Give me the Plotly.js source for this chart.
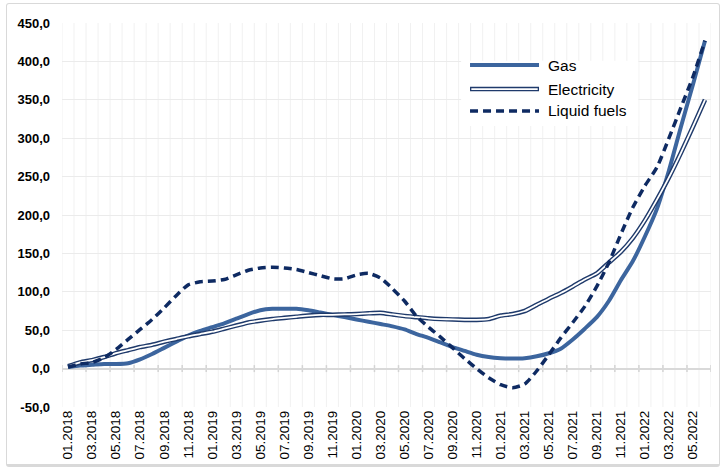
<!DOCTYPE html>
<html>
<head>
<meta charset="utf-8">
<script src="https://cdn.plot.ly/plotly-3.0.1.min.js"></script>
<style>
  html, body { margin: 0; padding: 0; background: #ffffff; }
  #wrap { position: relative; width: 721px; height: 468px; }
  #chart { position: absolute; left: 0; top: 0; width: 721px; height: 468px; }
  #frame { position: absolute; left: 6px; top: 3px; right: 1px; bottom: 1px;
           border: 1.5px solid #D9D9D9; border-bottom-width: 3px; border-radius: 3px;
           pointer-events: none; }
</style>
</head>
<body>
<div id="wrap"><div id="chart"></div><div id="frame"></div></div>
<script>
// Monthly categories, 01.2018 – 06.2022
const months = [
  "01.2018","02.2018","03.2018","04.2018","05.2018","06.2018","07.2018","08.2018","09.2018","10.2018","11.2018","12.2018",
  "01.2019","02.2019","03.2019","04.2019","05.2019","06.2019","07.2019","08.2019","09.2019","10.2019","11.2019","12.2019",
  "01.2020","02.2020","03.2020","04.2020","05.2020","06.2020","07.2020","08.2020","09.2020","10.2020","11.2020","12.2020",
  "01.2021","02.2021","03.2021","04.2021","05.2021","06.2021","07.2021","08.2021","09.2021","10.2021","11.2021","12.2021",
  "01.2022","02.2022","03.2022","04.2022","05.2022","06.2022"
];

// Labelled months on the category axis (every second month)
const xTickLabels = [
  "01.2018","03.2018","05.2018","07.2018","09.2018","11.2018",
  "01.2019","03.2019","05.2019","07.2019","09.2019","11.2019",
  "01.2020","03.2020","05.2020","07.2020","09.2020","11.2020",
  "01.2021","03.2021","05.2021","07.2021","09.2021","11.2021",
  "01.2022","03.2022","05.2022"
];

const yTickVals = [-50, 0, 50, 100, 150, 200, 250, 300, 350, 400, 450];
const yTickText = ["-50,0","0,0","50,0","100,0","150,0","200,0","250,0","300,0","350,0","400,0","450,0"];

// Series
const gas = [
  2, 4, 5, 6, 6, 7, 12, 19, 27, 35, 43, 49,
  54, 59, 65, 71, 76, 78, 78, 78, 76, 73, 70, 67,
  64, 61, 58, 55, 51, 45, 40, 34, 28, 23, 18, 15,
  13.5, 13, 13.5, 16, 20, 26, 38, 52, 67, 88, 115, 140,
  172, 208, 258, 315, 370, 427
];

const electricity = [
  3, 8, 11, 15, 20, 24, 28, 31, 35, 38.5, 42, 45,
  48, 52, 56, 60, 62.5, 64.5, 66, 67.5, 69, 70, 70, 70.5,
  71, 72, 72.5, 70.5, 68.5, 67, 65.5, 64.5, 64, 63.5, 63.5, 64.5,
  69, 71, 75, 83, 91, 98.5, 107, 116, 124, 138, 152, 170,
  193, 220, 249, 281, 315, 350
];

const liquidFuels = [
  2, 6, 8, 14, 25, 38, 51, 64, 79, 95, 109, 113,
  114, 116, 122, 128, 131, 132, 131, 129, 125, 121, 117, 117,
  122, 124, 118, 104, 88, 68, 54, 41, 27, 13, 0, -12,
  -21, -25, -20, -3, 18, 40, 60, 81, 107, 138, 175, 210,
  238, 262, 300, 340, 380, 427
];

const seriesNames = ["Gas", "Electricity", "Liquid fuels"];

const FONT = '"Liberation Sans", Arial, sans-serif';
const GAS_COLOR = '#3C659E';
const ELEC_COLOR = '#1F3A6B';
const LIQ_COLOR = '#0E2A62';
const LIQ_DASH = '8px,5px';
const SMOOTH = 0.6;

const traces = [
  { x: months, y: gas, type: 'scatter', mode: 'lines', name: seriesNames[0],
    line: { color: GAS_COLOR, width: 4, shape: 'spline', smoothing: SMOOTH },
    hoverinfo: 'skip', showlegend: false },
  // electricity: dark outline with a white core
  { x: months, y: electricity, type: 'scatter', mode: 'lines', name: seriesNames[1],
    line: { color: ELEC_COLOR, width: 4.6, shape: 'spline', smoothing: SMOOTH },
    hoverinfo: 'skip', showlegend: false },
  { x: months, y: electricity, type: 'scatter', mode: 'lines', name: seriesNames[1],
    line: { color: '#FFFFFF', width: 1.8, shape: 'spline', smoothing: SMOOTH },
    hoverinfo: 'skip', showlegend: false },
  { x: months, y: liquidFuels, type: 'scatter', mode: 'lines', name: seriesNames[2],
    line: { color: LIQ_COLOR, width: 3.5, dash: LIQ_DASH, shape: 'spline', smoothing: SMOOTH },
    hoverinfo: 'skip', showlegend: false }
];

const shapes = [];
// monthly vertical grid at category boundaries
for (let b = -0.5; b <= months.length - 0.5; b += 1) {
  shapes.push({ type: 'line', xref: 'x', yref: 'paper', x0: b, x1: b, y0: 0, y1: 1,
                line: { color: '#F1F1F1', width: 1 }, layer: 'below' });
}
// tick marks crossing the zero line, every second month
for (let b = -0.5; b <= months.length - 0.5; b += 2) {
  shapes.push({ type: 'line', xref: 'x', yref: 'y', ysizemode: 'pixel', yanchor: 0,
                x0: b, x1: b, y0: -3.5, y1: 3.5,
                line: { color: '#D4D4D4', width: 1.5 }, layer: 'below' });
}

// legend
const legX0 = 0.6287, legX1 = 0.735, legTextX = 0.7458;
const legY = [0.8906, 0.828, 0.771];
shapes.push({ type: 'rect', xref: 'paper', yref: 'paper', x0: 0.615, x1: 0.888, y0: 0.732, y1: 0.902,
              fillcolor: '#FFFFFF', line: { width: 0 }, layer: 'above' });
shapes.push({ type: 'line', xref: 'paper', yref: 'paper', x0: legX0, x1: legX1, y0: legY[0], y1: legY[0],
              line: { color: GAS_COLOR, width: 4 }, layer: 'above' });
shapes.push({ type: 'line', xref: 'paper', yref: 'paper', x0: legX0, x1: legX1, y0: legY[1], y1: legY[1],
              line: { color: ELEC_COLOR, width: 4.6 }, layer: 'above' });
shapes.push({ type: 'line', xref: 'paper', yref: 'paper', x0: legX0 + 0.002, x1: legX1 - 0.002, y0: legY[1], y1: legY[1],
              line: { color: '#FFFFFF', width: 1.8 }, layer: 'above' });
shapes.push({ type: 'line', xref: 'paper', yref: 'paper', x0: legX0, x1: legX1, y0: legY[2], y1: legY[2],
              line: { color: LIQ_COLOR, width: 3.5, dash: LIQ_DASH }, layer: 'above' });

const annotations = seriesNames.map((name, i) => ({
  text: name, xref: 'paper', yref: 'paper', x: legTextX, y: legY[i],
  xanchor: 'left', yanchor: 'middle', showarrow: false,
  font: { family: FONT, size: 15.5, color: '#000000' }
}));

const layout = {
  width: 721, height: 468,
  margin: { l: 62, r: 10, t: 23, b: 61, pad: 0 },
  paper_bgcolor: '#FFFFFF', plot_bgcolor: '#FFFFFF',
  font: { family: FONT, color: '#000000' },
  showlegend: false,
  xaxis: {
    type: 'category', range: [-0.5, months.length - 0.5],
    tickmode: 'array', tickvals: xTickLabels, ticktext: xTickLabels,
    tickangle: -90, ticks: '', showgrid: false, zeroline: false, showline: false,
    tickfont: { family: FONT, size: 13.5, color: '#000000' },
    fixedrange: true
  },
  yaxis: {
    range: [-50, 450], tickmode: 'array', tickvals: yTickVals, ticktext: yTickText,
    showgrid: true, gridcolor: '#EBEBEB', gridwidth: 1,
    zeroline: true, zerolinecolor: '#D9D9D9', zerolinewidth: 2,
    showline: false, ticks: '', ticklabelstandoff: 11,
    tickfont: { family: FONT, size: 13, color: '#000000', weight: 700 },
    fixedrange: true
  },
  shapes: shapes,
  annotations: annotations
};

Plotly.newPlot('chart', traces, layout, { displayModeBar: false, staticPlot: true });
</script>
</body>
</html>
